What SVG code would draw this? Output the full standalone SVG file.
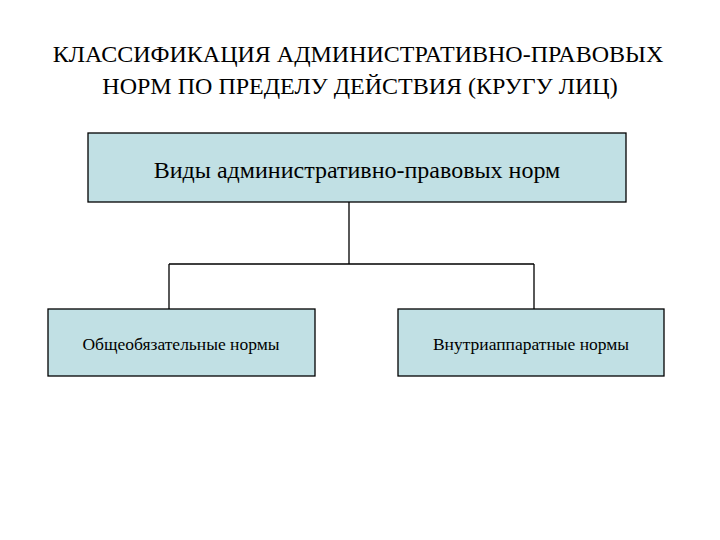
<svg xmlns="http://www.w3.org/2000/svg" width="720" height="540" viewBox="0 0 720 540">
<style>
.box{fill:#c1e0e4;stroke:#000;stroke-width:1.3}
.t{font-family:"Liberation Serif",serif;text-anchor:middle;fill:#000}
.c{fill:none;stroke:#000;stroke-width:1.3}
</style>
<rect width="720" height="540" fill="#fff"/>
<text class="t" x="358" y="62" font-size="24">КЛАССИФИКАЦИЯ АДМИНИСТРАТИВНО-ПРАВОВЫХ</text>
<text class="t" x="360" y="94" font-size="24">НОРМ ПО ПРЕДЕЛУ ДЕЙСТВИЯ (КРУГУ ЛИЦ)</text>
<g id="connectors">
<path class="c" d="M349 202V264M169 264H534M169 264V309M534 264V309"/>
</g>
<g id="root"><rect class="box" x="88" y="133" width="538" height="69"/>
<text class="t" x="357" y="178" font-size="24">Виды административно-правовых норм</text></g>
<g id="left"><rect class="box" x="48" y="309" width="267" height="67"/>
<text class="t" x="181" y="350" font-size="17.5">Общеобязательные нормы</text></g>
<g id="right"><rect class="box" x="398" y="309" width="266" height="67"/>
<text class="t" x="531" y="350" font-size="17.5">Внутриаппаратные нормы</text></g>
</svg>
